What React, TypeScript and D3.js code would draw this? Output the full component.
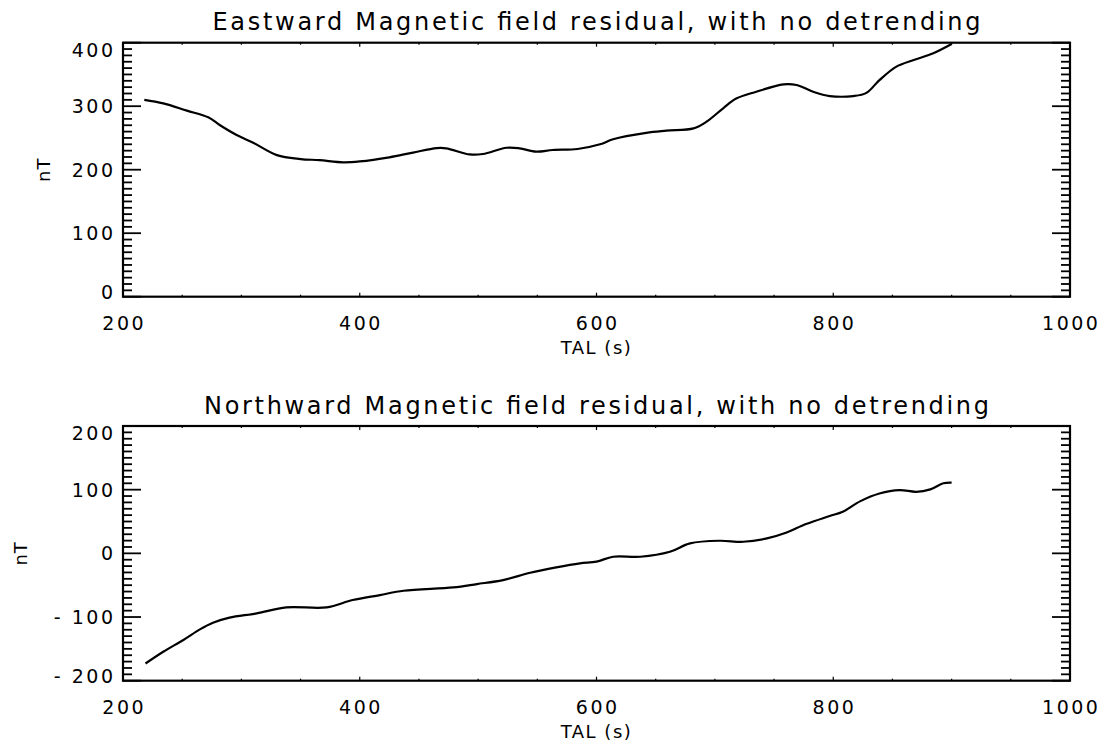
import React from "react";
import * as d3 from "d3";

// ---- data ----
const eastTime = [218, 234, 254, 272, 282, 296, 310, 330, 350, 366, 386, 400, 425, 445, 465, 473, 493, 504, 524, 535, 549, 563, 584, 603, 614, 642, 659, 682, 693, 707, 718, 735, 758, 769, 783, 797, 817, 828, 839, 853, 868, 884, 900];
const eastValue = [310, 304.5, 293, 282.5, 270, 254.6, 242.5, 223, 216.8, 215, 211.6, 213, 219.5, 227, 234, 233.7, 224, 224.7, 234.6, 233.7, 228.4, 231, 232.6, 240, 248, 258, 261.4, 265, 275.6, 296.7, 312, 322.8, 334.5, 333.4, 322.8, 316, 316, 321, 341, 362, 372.8, 383, 398];

const northTime = [219, 234, 251, 265, 276, 290, 313, 338, 372, 394, 417, 437, 479, 499, 521, 544, 566, 586, 600, 614, 637, 662, 679, 704, 724, 744, 760, 777, 797, 808, 823, 839, 856, 870, 882, 893, 900];
const northValue = [-173, -154.5, -136, -119.4, -109, -101, -94.3, -84.8, -84.8, -73.3, -65.5, -58.7, -53.4, -48.2, -42, -30.4, -22, -15.7, -13, -5.3, -5.3, 2.5, 15.7, 19.8, 18.2, 23.5, 32.4, 46, 58.6, 65.3, 82, 94, 99.4, 96.7, 100.5, 110, 111];

const xDomain = [200, 1000];
const xTickValues = [200, 400, 600, 800, 1000];
const eastDomain = [0, 400];
const eastTicks = [0, 100, 200, 300, 400];
const northDomain = [-200, 200];
const northTicks = [-200, -100, 0, 100, 200];

const titles = [
  "Eastward Magnetic field residual, with no detrending",
  "Northward Magnetic field residual, with no detrending",
];
const xTitle = "TAL (s)";
const yTitle = "nT";

const FONT = "DejaVu Sans, sans-serif";

type PanelProps = {
  top: number;
  bottom: number;
  yDomain: number[];
  yTicks: number[];
  times: number[];
  values: number[];
  title: string;
  titleWidth: number;
  yTitleX: number;
};

function fmt(v: number) {
  return v < 0 ? "- " + Math.abs(v) : String(v);
}

function Panel(p: PanelProps) {
  const left = 123;
  const right = 1070;
  const x = d3.scaleLinear().domain(xDomain).range([left, right]);
  const y = d3.scaleLinear().domain(p.yDomain).range([p.bottom, p.top]);
  const line = d3
    .line<number>()
    .x((_, i) => x(p.times[i]))
    .y((d) => y(d))
    .curve(d3.curveCatmullRom.alpha(0.5));

  const yMinor = d3.range(p.yDomain[0], p.yDomain[1] + 0.001, 10);
  const xMinor = d3.range(xDomain[0], xDomain[1] + 0.001, 50);
  const midX = (left + right) / 2;

  return (
    <g>
      <text
        x={midX}
        y={p.top - 12.5}
        textAnchor="middle"
        fontFamily={FONT}
        fontSize={24}
        textLength={p.titleWidth}
        lengthAdjust="spacing"
      >
        {p.title}
      </text>
      {/* frame */}
      <rect x={left} y={p.top} width={right - left} height={p.bottom - p.top} fill="none" stroke="#000" strokeWidth={2.2} />
      {/* y minor/major ticks on both sides */}
      {yMinor.map((v) => {
        const major = Math.abs(v % 100) < 0.001;
        const len = major ? 18 : 9;
        const yy = y(v);
        return (
          <g key={"y" + v}>
            <line x1={left} x2={left + len} y1={yy} y2={yy} stroke="#000" strokeWidth={1.8} />
            <line x1={right} x2={right - len} y1={yy} y2={yy} stroke="#000" strokeWidth={1.8} />
          </g>
        );
      })}
      {/* x ticks (tiny) */}
      {xMinor.map((v) => {
        const major = Math.abs(v % 200) < 0.001;
        const len = major ? 4 : 2;
        const xx = x(v);
        return (
          <g key={"x" + v}>
            <line x1={xx} x2={xx} y1={p.bottom} y2={p.bottom - len} stroke="#000" strokeWidth={1.2} />
            <line x1={xx} x2={xx} y1={p.top} y2={p.top + len} stroke="#000" strokeWidth={1.2} />
          </g>
        );
      })}
      {/* y labels */}
      {p.yTicks.map((v) => {
        const yy = Math.min(Math.max(y(v), p.top + 7), p.bottom - 5);
        return (
          <text
            key={"yl" + v}
            x={115.5}
            y={yy}
            dy="0.36em"
            textAnchor="end"
            fontFamily={FONT}
            fontSize={19}
            letterSpacing={2.5}
          >
            {fmt(v)}
          </text>
        );
      })}
      {/* x labels */}
      {xTickValues.map((v) => (
        <text
          key={"xl" + v}
          x={x(v) + 1.25}
          y={p.bottom + 33}
          textAnchor="middle"
          fontFamily={FONT}
          fontSize={19}
          letterSpacing={2.5}
        >
          {v}
        </text>
      ))}
      <text x={midX} y={p.bottom + 57} textAnchor="middle" fontFamily={FONT} fontSize={18} letterSpacing={1.5}>
        {xTitle}
      </text>
      <text
        transform={`translate(${p.yTitleX},${(p.top + p.bottom) / 2}) rotate(-90)`}
        textAnchor="middle"
        fontFamily={FONT}
        fontSize={18}
        letterSpacing={1}
      >
        {yTitle}
      </text>
      <path d={line(p.values) || ""} fill="none" stroke="#000" strokeWidth={2.2} strokeLinejoin="round" />
    </g>
  );
}

export default function App() {
  return (
    <svg
      width={1109}
      height={748}
      style={{ position: "absolute", left: 0, top: 0, background: "#fff" }}
    >
      <rect width={1109} height={748} fill="#fff" />
      <Panel
        top={42.7}
        bottom={296.7}
        yDomain={eastDomain}
        yTicks={eastTicks}
        times={eastTime}
        values={eastValue}
        title={titles[0]}
        titleWidth={768}
        yTitleX={50}
      />
      <Panel
        top={426}
        bottom={680.7}
        yDomain={northDomain}
        yTicks={northTicks}
        times={northTime}
        values={northValue}
        title={titles[1]}
        titleWidth={785}
        yTitleX={27}
      />
    </svg>
  );
}
